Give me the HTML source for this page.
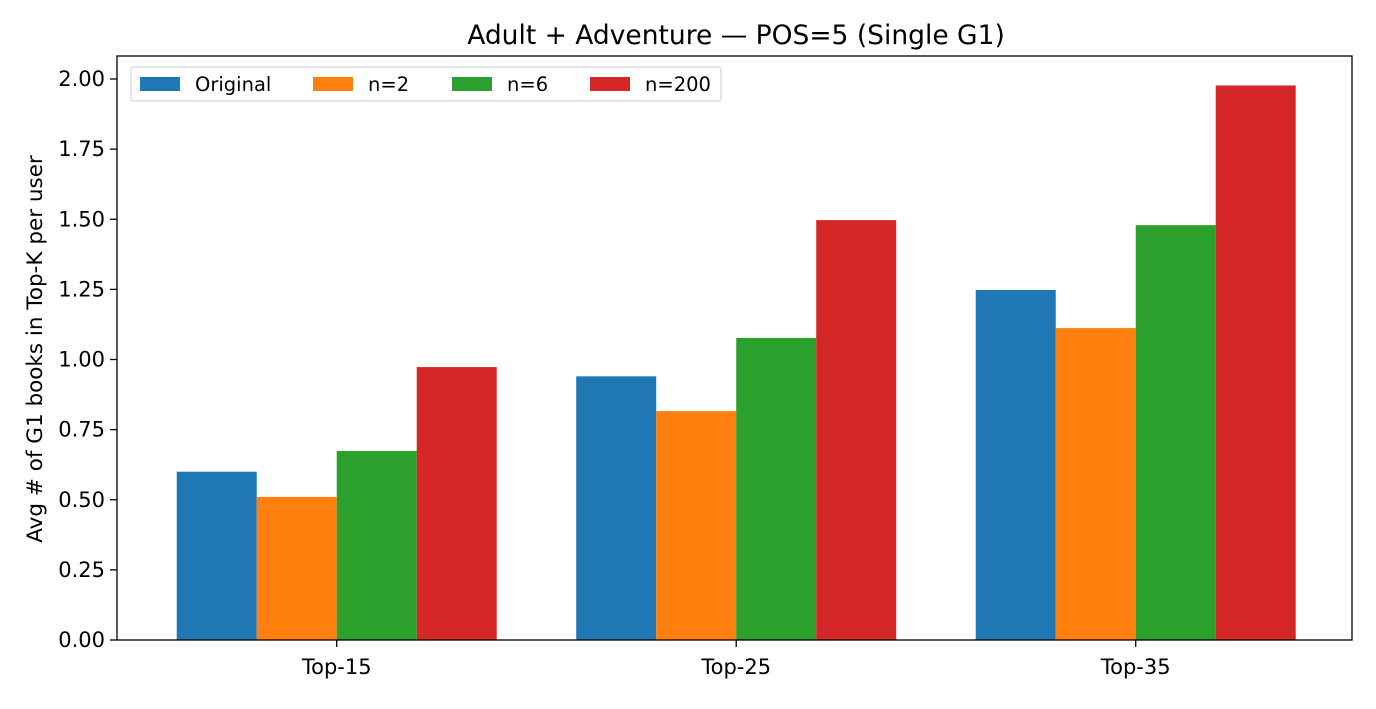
<!DOCTYPE html>
<html><head><meta charset="utf-8"><style>
body{margin:0;background:#fff;font-family:"Liberation Sans","DejaVu Sans",sans-serif}
</style></head><body>
<svg id="chart" width="1376" height="704" font-family="DejaVu Sans, Liberation Sans, sans-serif">
<text x="736" y="44" text-anchor="middle" font-size="26.5">Adult + Adventure — POS=5 (Single G1)</text>
<text transform="translate(42,349) rotate(-90)" text-anchor="middle" font-size="21.5">Avg # of G1 books in Top-K per user</text>
<g id="bars"></g><g id="yt"></g><g id="xt"></g>
<rect x="117" y="56" width="1235" height="584" fill="none" stroke="#000" stroke-width="1.3"/>
<g id="legend">
<rect x="131" y="67" width="590" height="34" rx="3" fill="#fff" stroke="#ccc"/>
</g>
</svg>
<script>
const categories=["Top-15","Top-25","Top-35"];
const seriesNames=["Original","n=2","n=6","n=200"];
const colors=["#1f77b4","#ff7f0e","#2ca02c","#d62728"];
const original=[0.60,0.94,1.248];
const n2=[0.51,0.816,1.112];
const n6=[0.674,1.077,1.479];
const n200=[0.973,1.497,1.977];
const yTicks=[0,0.25,0.5,0.75,1.0,1.25,1.5,1.75,2.0];
const series=[original,n2,n6,n200];
const NS="http://www.w3.org/2000/svg";
const y=v=>640-v*280.5;
const x=c=>117+(c+0.55)*399.5;
function mk(t,a,p){const e=document.createElementNS(NS,t);for(const k in a)e.setAttribute(k,a[k]);p.appendChild(e);return e;}
const bars=document.getElementById('bars');
series.forEach((s,si)=>s.forEach((v,ci)=>{
 const cx=x(ci)-160+si*80;
 const r=mk('rect',{x:cx,y:y(v),width:80,height:640-y(v),fill:colors[si]},bars);
 
 
}));
const yt=document.getElementById('yt');
yTicks.forEach(t=>{
 mk('line',{x1:110,x2:117,y1:y(t),y2:y(t),stroke:'#000','stroke-width':1.3},yt);
 const tx=mk('text',{x:105,y:y(t)+7,'text-anchor':'end','font-size':21},yt);
 tx.textContent=t.toFixed(2);
 
 
});
const xt=document.getElementById('xt');
categories.forEach((c,i)=>{
 mk('line',{x1:x(i),x2:x(i),y1:640,y2:647,stroke:'#000','stroke-width':1.3},xt);
 const tx=mk('text',{x:x(i),y:674,'text-anchor':'middle','font-size':21},xt);
 tx.textContent=c;
 
 
});
const lg=document.getElementById('legend');
const lx=[140,313,452,590];
seriesNames.forEach((n,i)=>{
 const g=mk('g',{},lg);
 
 
 mk('rect',{x:lx[i],y:77,width:40,height:14,fill:colors[i]},g);
 const t=mk('text',{x:lx[i]+55,y:91,'font-size':19.5},g);
 t.textContent=n;
});
</script>
</body></html>
